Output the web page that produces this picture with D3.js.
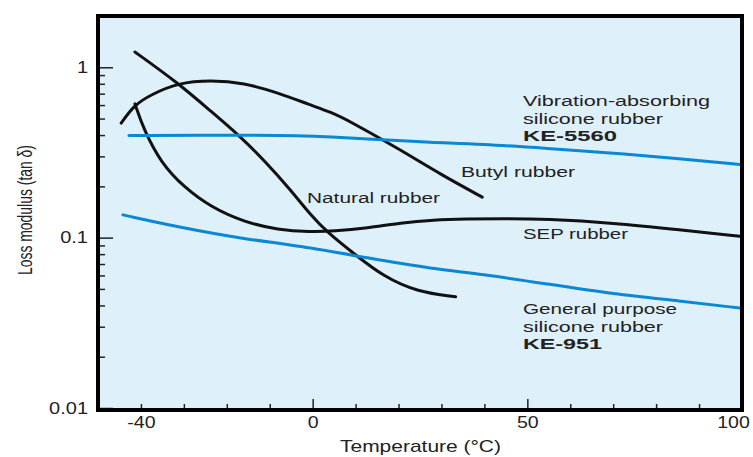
<!DOCTYPE html>
<html>
<head>
<meta charset="utf-8">
<script src="https://cdn.jsdelivr.net/npm/d3@7"></script>
<style>
  body { margin: 0; background: #fff; }
  svg { display: block; }
</style>
</head>
<body>
<div id="chart"></div>
<script>
// values: temperature (°C) and loss modulus (tan δ)
const naturalT = [-41.4, -31.4, -24.0, -16.7, -10.7, -5.1, -0.5, 3.5, 9.5, 16.5, 24.4, 33.3]
const naturalV = [1.23, 0.81, 0.56, 0.39, 0.274, 0.19, 0.136, 0.107, 0.081, 0.059, 0.048, 0.045]

const butylT = [-44.6, -41.6, -37.7, -31.4, -23.7, -16.0, -8.1, -0.5, 4.2, 8.8, 20.5, 29.8, 39.5]
const butylV = [0.47, 0.60, 0.69, 0.81, 0.84, 0.81, 0.71, 0.60, 0.546, 0.48, 0.327, 0.235, 0.173]

const sepT = [-41.4, -39.3, -35.3, -30.0, -23.7, -16.0, -8.1, -0.5, 4.9, 12.8, 20.5, 28.1, 36.0, 43.7, 54.7, 70.0, 85.6, 99.5]
const sepV = [0.61, 0.428, 0.274, 0.198, 0.151, 0.1235, 0.111, 0.108, 0.109, 0.114, 0.122, 0.127, 0.1287, 0.1296, 0.1287, 0.122, 0.111, 0.102]

const ke5560T = [-42.8, -16.0, -2.8, 4.2, 12.8, 28.1, 39.1, 54.7, 70.0, 85.6, 99.5]
const ke5560V = [0.398, 0.40, 0.397, 0.39, 0.379, 0.362, 0.355, 0.334, 0.314, 0.291, 0.269]

const ke951T = [-44.2, -31.4, -16.0, -2.8, 12.8, 28.1, 39.1, 54.7, 70.0, 85.6, 99.5]
const ke951V = [0.136, 0.1155, 0.0982, 0.0893, 0.076, 0.0655, 0.0612, 0.0534, 0.0467, 0.0425, 0.0386]

const xLabelTicks = [-40, 0, 50, 100]
const xMajorTicks = [0, 50]
const xMinorTicks = [-40, -30, -20, -10, 10, 20, 30, 40, 60, 70, 80, 90]
const yLabelTicks = [0.01, 0.1, 1]
const yMinorTicks = [0.02, 0.03, 0.04, 0.05, 0.06, 0.07, 0.08, 0.09, 0.2, 0.3, 0.4, 0.5, 0.6, 0.7, 0.8, 0.9]

const noteTexts = ["Vibration-absorbing", "silicone rubber", "KE-5560", "Butyl rubber", "Natural rubber",
                   "SEP rubber", "General purpose", "silicone rubber", "KE-951"]

const width = 753
const height = 457
const black = "#111"
const blue = "#0a88d3"
const textColor = "#222"
const font = "'Liberation Sans', Arial, sans-serif"

const series = [
    {t: naturalT, v: naturalV, color: black},
    {t: butylT, v: butylV, color: black},
    {t: sepT, v: sepV, color: black},
    {t: ke5560T, v: ke5560V, color: blue},
    {t: ke951T, v: ke951V, color: blue}
]

// where the notes sit in the picture (x, baseline, width)
const noteLayout = [
    {x: 523, y: 106, w: 187},
    {x: 523, y: 124, w: 140},
    {x: 523, y: 141, w: 94, bold: true},
    {x: 461, y: 177, w: 114},
    {x: 307, y: 203, w: 133},
    {x: 523, y: 239, w: 105},
    {x: 523, y: 314, w: 154},
    {x: 523, y: 332, w: 140},
    {x: 523, y: 349, w: 79, bold: true}
]

const svg = d3.select("#chart").append("svg")
    .attr("width", width)
    .attr("height", height)

const x = d3.scaleLinear().domain([-50, 100]).range([98, 742])
const y = d3.scaleLog().domain([0.01, 2]).range([408, 16])

// plot background
svg.append("rect")
    .attr("x", 98).attr("y", 16)
    .attr("width", 644).attr("height", 394)
    .attr("fill", "#def0fa")

// stretch text sideways, the figure's lettering is wide
function stretch(sel, k) {
    sel.each(function () {
        const w = this.getComputedTextLength()
        d3.select(this).attr("textLength", w * k).attr("lengthAdjust", "spacingAndGlyphs")
    })
}

// y axis, ticks point inward
const yMajor = svg.append("g")
    .attr("transform", "translate(98,0)")
    .call(d3.axisLeft(y).tickValues(yLabelTicks).tickSize(-15).tickPadding(10)
        .tickFormat(d => String(d)))
svg.append("g")
    .attr("transform", "translate(98,0)")
    .call(d3.axisLeft(y).tickValues(yMinorTicks).tickSize(-7).tickFormat(""))

// x axis
svg.append("g")
    .attr("transform", "translate(0,410)")
    .call(d3.axisBottom(x).tickValues(xMinorTicks).tickSize(-6).tickFormat(""))
svg.append("g")
    .attr("transform", "translate(0,410)")
    .call(d3.axisBottom(x).tickValues(xMajorTicks).tickSize(-11).tickFormat(""))
const xLab = svg.append("g")
    .attr("transform", "translate(0,410)")
    .call(d3.axisBottom(x).tickValues(xLabelTicks).tickSize(0).tickPadding(7)
        .tickFormat(d => String(d)))

svg.selectAll(".domain").remove()
svg.selectAll(".tick line").attr("stroke", "#222").attr("stroke-width", 1.5)
svg.selectAll(".tick text")
    .attr("font-family", font)
    .attr("font-size", 16)
    .attr("fill", textColor)
stretch(yMajor.selectAll("text"), 1.25)
stretch(xLab.selectAll("text"), 1.22)
// the last label is pulled in so it stays on the page
xLab.selectAll("text").filter(d => d === 100).attr("dx", -9)

// curves
const line = d3.line()
    .x(d => x(d[0]))
    .y(d => y(d[1]))
    .curve(d3.curveBasis)

svg.append("g")
    .selectAll("path")
    .data(series)
    .join("path")
    .attr("d", s => line(d3.zip(s.t, s.v)))
    .attr("fill", "none")
    .attr("stroke", s => s.color)
    .attr("stroke-width", 3)
    .attr("stroke-linecap", "round")
    .attr("stroke-linejoin", "round")

// frame on top
svg.append("rect")
    .attr("x", 98).attr("y", 16)
    .attr("width", 644).attr("height", 394)
    .attr("fill", "none")
    .attr("stroke", "#000")
    .attr("stroke-width", 4)

// notes next to the curves
svg.append("g")
    .selectAll("text")
    .data(noteTexts)
    .join("text")
    .attr("x", (d, i) => noteLayout[i].x)
    .attr("y", (d, i) => noteLayout[i].y)
    .attr("textLength", (d, i) => noteLayout[i].w)
    .attr("lengthAdjust", "spacingAndGlyphs")
    .attr("font-family", font)
    .attr("font-size", 15.5)
    .attr("font-weight", (d, i) => noteLayout[i].bold ? "bold" : "normal")
    .attr("fill", textColor)
    .text(d => d)

// axis titles
svg.append("text")
    .attr("x", 340)
    .attr("y", 452)
    .attr("textLength", 161)
    .attr("lengthAdjust", "spacingAndGlyphs")
    .attr("font-family", font)
    .attr("font-size", 17)
    .attr("fill", textColor)
    .text("Temperature (°C)")

svg.append("text")
    .attr("transform", "translate(32,275) rotate(-90)")
    .attr("textLength", 130)
    .attr("lengthAdjust", "spacingAndGlyphs")
    .attr("font-family", font)
    .attr("font-size", 20)
    .attr("fill", textColor)
    .text("Loss modulus (tan δ)")
</script>
</body>
</html>
